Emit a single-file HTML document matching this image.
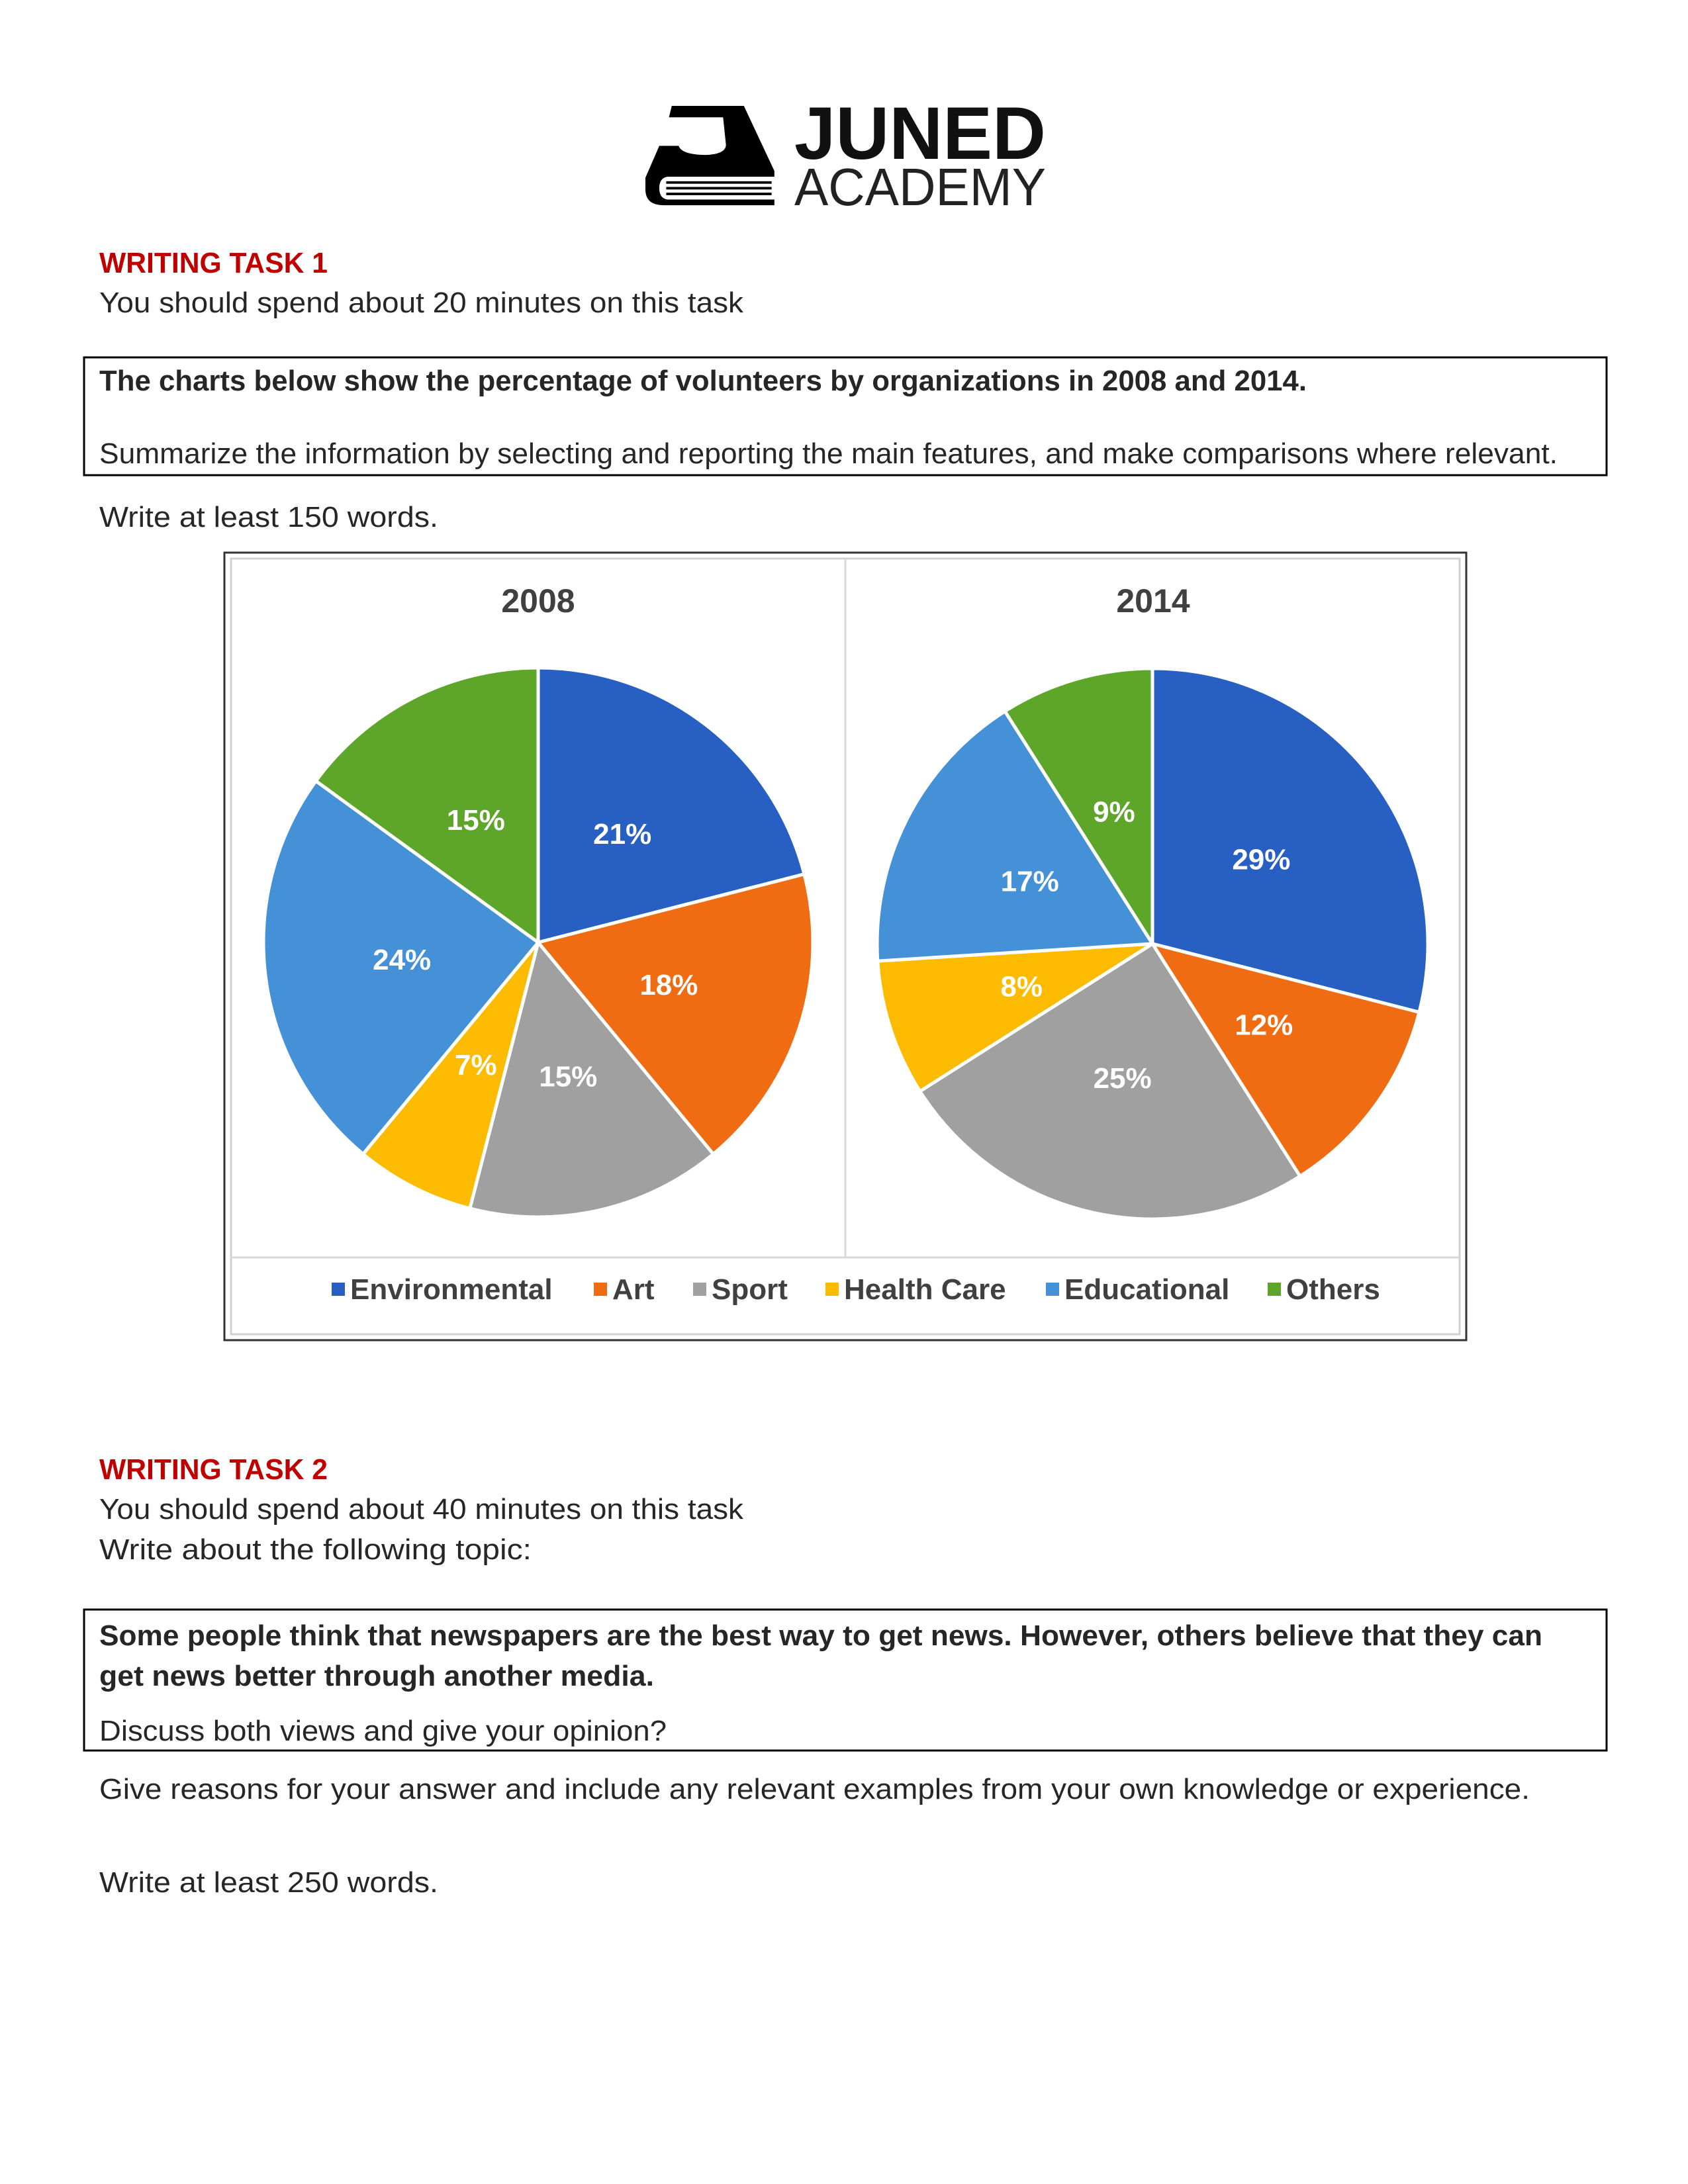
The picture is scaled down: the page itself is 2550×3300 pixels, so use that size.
<!DOCTYPE html>
<html><head><meta charset="utf-8"><style>
html,body{margin:0;padding:0;background:#fff;}
svg{display:block;}
text{font-family:"Liberation Sans",sans-serif;}
</style></head><body>
<svg id="page" width="2550" height="3300" viewBox="0 0 2550 3300">
<g>
<g transform="translate(975,160) scale(0.419,0.345) translate(-45,-65)">
<path fill="#000" d="M140,65 L400,65 L510,350 L510,375 L125,375 Q95,380 95,425 Q95,470 125,475 L510,475 L510,500 L110,500 Q45,500 45,430 L45,380 L95,240 L165,240 Q175,278 260,280 Q340,277 335,230 L325,115 L130,115 Z"/>
<rect x="120" y="395" width="380" height="11" fill="#000"/>
<rect x="120" y="420" width="380" height="11" fill="#000"/>
<rect x="120" y="445" width="380" height="11" fill="#000"/>
</g>
<text x="1200" y="240" font-size="112" font-weight="bold" fill="#111" textLength="380" lengthAdjust="spacingAndGlyphs">JUNED</text>
<text x="1200" y="310" font-size="80" font-weight="normal" fill="#222" textLength="380" lengthAdjust="spacingAndGlyphs">ACADEMY</text>
</g>

<text x="150" y="412" font-size="44" font-weight="bold" fill="#c00000" textLength="345" lengthAdjust="spacingAndGlyphs">WRITING TASK 1</text>
<text x="150" y="472" font-size="44" fill="#262626" textLength="973" lengthAdjust="spacingAndGlyphs">You should spend about 20 minutes on this task</text>
<rect x="127" y="540" width="2300" height="178" fill="none" stroke="#000" stroke-width="3"/>
<text x="150" y="590" font-size="44" font-weight="bold" fill="#262626" textLength="1824" lengthAdjust="spacingAndGlyphs">The charts below show the percentage of volunteers by organizations in 2008 and 2014.</text>
<text x="150" y="700" font-size="44" fill="#262626" textLength="2203" lengthAdjust="spacingAndGlyphs">Summarize the information by selecting and reporting the main features, and make comparisons where relevant.</text>
<text x="150" y="796" font-size="44" fill="#262626" textLength="512" lengthAdjust="spacingAndGlyphs">Write at least 150 words.</text>

<g id="chart">
<rect x="339" y="835" width="1876" height="1190" fill="#fff" stroke="#333" stroke-width="3"/>
<rect x="349" y="844" width="1856" height="1172" fill="#fff" stroke="#d0d0d0" stroke-width="3"/>
<line x1="1277" y1="844" x2="1277" y2="1900" stroke="#d9d9d9" stroke-width="3"/>
<line x1="349" y1="1900" x2="2205" y2="1900" stroke="#d9d9d9" stroke-width="3"/>
<text x="813" y="925" font-size="50" font-weight="bold" fill="#404040" text-anchor="middle">2008</text>
<text x="1742" y="925" font-size="50" font-weight="bold" fill="#404040" text-anchor="middle">2014</text>
<g id="pies"></g>
<g id="legend"></g>
</g>

<text x="150" y="2235" font-size="44" font-weight="bold" fill="#c00000" textLength="345" lengthAdjust="spacingAndGlyphs">WRITING TASK 2</text>
<text x="150" y="2295" font-size="44" fill="#262626" textLength="973" lengthAdjust="spacingAndGlyphs">You should spend about 40 minutes on this task</text>
<text x="150" y="2356" font-size="44" fill="#262626" textLength="653" lengthAdjust="spacingAndGlyphs">Write about the following topic:</text>
<rect x="127" y="2432" width="2300" height="213" fill="none" stroke="#000" stroke-width="3"/>
<text x="150" y="2486" font-size="44" font-weight="bold" fill="#262626" textLength="2180" lengthAdjust="spacingAndGlyphs">Some people think that newspapers are the best way to get news. However, others believe that they can</text>
<text x="150" y="2547" font-size="44" font-weight="bold" fill="#262626" textLength="838" lengthAdjust="spacingAndGlyphs">get news better through another media.</text>
<text x="150" y="2630" font-size="44" fill="#262626" textLength="857" lengthAdjust="spacingAndGlyphs">Discuss both views and give your opinion?</text>
<text x="150" y="2718" font-size="44" fill="#262626" textLength="2161" lengthAdjust="spacingAndGlyphs">Give reasons for your answer and include any relevant examples from your own knowledge or experience.</text>
<text x="150" y="2859" font-size="44" fill="#262626" textLength="512" lengthAdjust="spacingAndGlyphs">Write at least 250 words.</text>
</svg>
<script>
const categories = ["Environmental","Art","Sport","Health Care","Educational","Others"];
const values2008 = [21,18,15,7,24,15];
const values2014 = [29,12,25,8,17,9];
const colors = ["#285fc3","#ef6c12","#a0a0a0","#fdbb00","#4591d7","#5ea62a"];

const NS = "http://www.w3.org/2000/svg";
const pies = document.getElementById("pies");
const legend = document.getElementById("legend");
function mk(tag, attrs, parent){const e=document.createElementNS(NS,tag);for(const k in attrs)e.setAttribute(k,attrs[k]);parent.appendChild(e);return e;}
function pt(cx,cy,r,frac){const a=frac*2*Math.PI;return [cx+r*Math.sin(a),cy-r*Math.cos(a)];}
function drawPie(vals, cx, cy, r, year){
  const total = vals.reduce((a,b)=>a+b,0);
  let acc = 0;
  vals.forEach((v,i)=>{
    const f0 = acc/total, f1 = (acc+v)/total; acc += v;
    const p0 = pt(cx,cy,r,f0), p1 = pt(cx,cy,r,f1);
    const large = (f1-f0) > 0.5 ? 1 : 0;
    const path = mk("path",{d:`M${cx},${cy} L${p0[0]},${p0[1]} A${r},${r} 0 ${large} 1 ${p1[0]},${p1[1]} Z`,fill:colors[i],stroke:"#fff","stroke-width":5,"stroke-linejoin":"round"},pies);
    
    
    const lp = pt(cx,cy,r*0.5,(f0+f1)/2);
    const t = mk("text",{x:lp[0],y:lp[1]+15,"font-size":44,"font-weight":"bold",fill:"#fff","text-anchor":"middle"},pies);
    t.textContent = v + "%";
    
    
  });
}
drawPie(values2008, 813, 1424, 415, "2008");
drawPie(values2014, 1741, 1426, 416, "2014");

const legendX = [501, 897, 1047, 1247, 1580, 1915];
let lx = 0;
categories.forEach((c,i)=>{
  const x = legendX[i];
  const sq = mk("rect",{x:x,y:1938,width:20,height:20,fill:colors[i]},legend);
  
  
  const t = mk("text",{x:x+28,y:1963,"font-size":44,"font-weight":"bold",fill:"#404040"},legend);
  t.textContent = c;
  
  
});
</script>
</body></html>
